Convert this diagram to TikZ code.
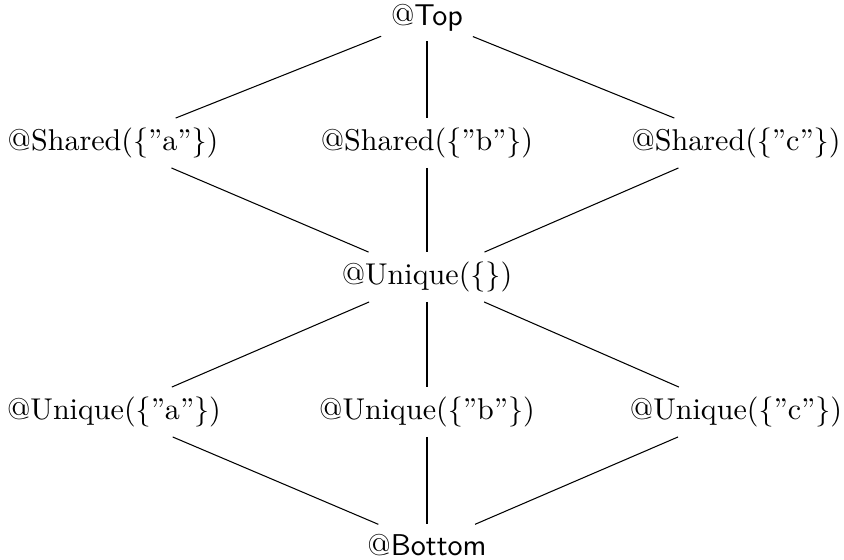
\documentclass[tikz,border=0pt]{standalone}
\begin{document}
\begin{tikzpicture}[x=0.3325pt,y=-0.3325pt,
  lat/.style={inner sep=3.1pt},
  edge/.style={draw=black,line width=0.35pt}]
\useasboundingbox (0,0) rectangle (844,559);
% lattice elements
\node[lat] (top) at (427,18)  {@\textsf{Top}};
\node[lat] (sa)  at (113,143) {@Shared(\{''a''\})};
\node[lat] (sb)  at (427,143) {@Shared(\{''b''\})};
\node[lat] (sc)  at (736,143) {@Shared(\{''c''\})};
\node[lat] (u)   at (427,277) {@Unique(\{\})};
\node[lat] (ua)  at (114,412) {@Unique(\{''a''\})};
\node[lat] (ub)  at (427,412) {@Unique(\{''b''\})};
\node[lat] (uc)  at (736,412) {@Unique(\{''c''\})};
\node[lat] (bot) at (427,545) {@\textsf{Bottom}};
% ordering edges
\foreach \a/\b in {top/sa,top/sb,top/sc,sa/u,sb/u,sc/u,u/ua,u/ub,u/uc,ua/bot,ub/bot,uc/bot}
  \draw[edge] (\a) -- (\b);
\end{tikzpicture}
\end{document}
